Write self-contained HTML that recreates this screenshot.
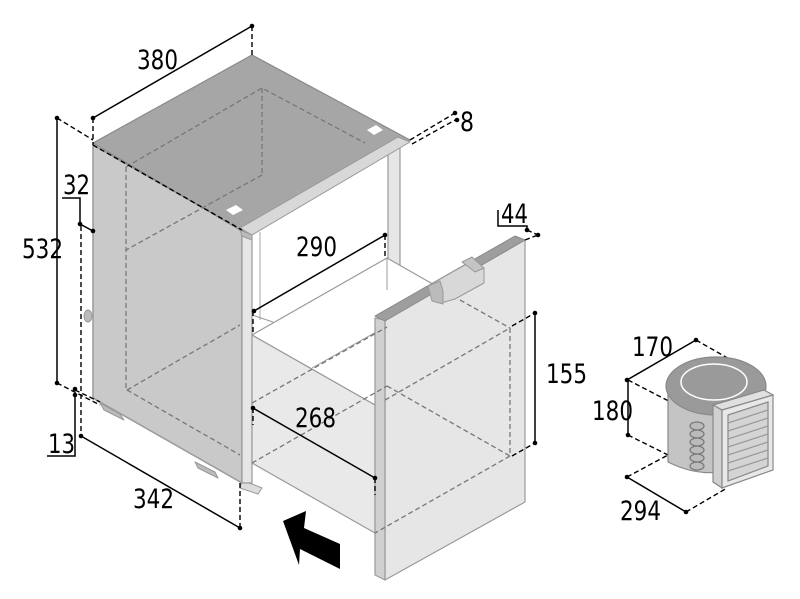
<!DOCTYPE html>
<html><head><meta charset="utf-8"><style>
html,body{margin:0;padding:0;background:#fff;width:800px;height:599px;overflow:hidden}
text{font-family:"DejaVu Sans Condensed","Liberation Sans Narrow","Liberation Sans",sans-serif;font-size:27px;fill:#000}
</style></head><body>
<svg width="800" height="599" viewBox="0 0 800 599" xmlns="http://www.w3.org/2000/svg">
<g stroke-linejoin="round">
<polygon points="93,145 242,230 242,483 93,398" fill="#c9c9c9" stroke="#9a9a9a" stroke-width="1.5"/>
<polygon points="100,403 120,414 124,420 104,410" fill="#bbb" stroke="#999"/>
<polygon points="195,462 215,472 218,478 198,468" fill="#bbb" stroke="#999"/>
<polygon points="242,480 262,488 258,494 240,488" fill="#ddd" stroke="#999"/>
<ellipse cx="88" cy="316" rx="4" ry="6" fill="#bbb" stroke="#999"/>
<polygon points="242,230 252,233 252,483 242,483" fill="#e6e6e6" stroke="#9a9a9a" stroke-width="1.2"/>
<polygon points="388,152 400,146 400,285 388,285" fill="#e6e6e6" stroke="#9a9a9a" stroke-width="1.2"/>
<line x1="260" y1="232" x2="260" y2="320" stroke="#aaa"/>
<polygon points="93,143 252,55 410,140 240,230" fill="#a6a6a6" stroke="#8a8a8a" stroke-width="1.2"/>
<polygon points="240,228 398,137 410,142 252,235" fill="#d8d8d8" stroke="#999"/>
<polygon points="240,230 252,235 252,240 242,236" fill="#bbb" stroke="#999"/>
<polygon points="226,210 236,205 243,210 233,215" fill="#fff"/>
<polygon points="367,130 376,125 383,130 374,135" fill="#fff"/>
<polygon points="252,335 387,258 510,328 375,405" fill="#fff" stroke="#9a9a9a" stroke-width="1.2"/>
<line x1="312" y1="368" x2="385" y2="327" stroke="#9a9a9a"/>
<line x1="252" y1="315" x2="273" y2="322" stroke="#9a9a9a"/>
<line x1="387" y1="258" x2="387" y2="290" stroke="#9a9a9a"/>
<polygon points="252,335 375,405 375,533 252,463" fill="#e9e9e9" stroke="#9a9a9a" stroke-width="1.2"/>
<polygon points="385,320 525,240 525,502 385,580" fill="#e6e6e6" stroke="#9a9a9a" stroke-width="1.2"/>
<polygon points="375,318 385,320 385,580 375,575" fill="#d0d0d0" stroke="#9a9a9a" stroke-width="1.2"/>
<polygon points="375,316 515,236 525,240 385,321" fill="#9e9e9e" stroke="#8a8a8a"/>
<polygon points="428,286 472,261 484,268 484,283 455,299 441,303 441,292" fill="#d8d8d8" stroke="#999"/>
<polygon points="428,286 440,281 443,291 443,304 432,301" fill="#bbb" stroke="#999"/>
<polygon points="462,262 472,257 484,268 475,272" fill="#c4c4c4" stroke="#999"/>
</g>
<g stroke="#777" stroke-width="1.3" stroke-dasharray="5,3" fill="none">
<polyline points="126,167 262,88 365,143"/>
<line x1="262" y1="88" x2="262" y2="175"/>
<line x1="262" y1="175" x2="126" y2="250"/>
<line x1="126" y1="167" x2="126" y2="390"/>
<line x1="127" y1="390" x2="240" y2="455"/>
<line x1="127" y1="390" x2="240" y2="325"/>
<line x1="252" y1="463" x2="387" y2="386"/>
<line x1="252" y1="403" x2="387" y2="327"/>
<line x1="387" y1="386" x2="510" y2="456"/>
<line x1="510" y1="456" x2="375" y2="533"/>
<line x1="385" y1="400" x2="510" y2="328"/>
<line x1="510" y1="328" x2="510" y2="456"/>
<line x1="460" y1="300" x2="510" y2="328"/>
</g>
<g stroke="#000" stroke-width="1.5" fill="none">
<line x1="93" y1="118" x2="252" y2="26"/>
<line x1="57" y1="118" x2="57" y2="383"/>
<line x1="81" y1="436" x2="240" y2="528"/>
<line x1="254" y1="311" x2="385" y2="235"/>
<line x1="253" y1="408" x2="375" y2="478"/>
<line x1="535" y1="313" x2="535" y2="443"/>
<polyline points="62,198 80,198 80,224 93,231"/>
<polyline points="47,456 75,456 75,395"/>
<polyline points="498,210 498,226 527,226 527,230"/>
<line x1="627" y1="380" x2="696" y2="340"/>
<line x1="628" y1="380" x2="628" y2="435"/>
<line x1="627" y1="477" x2="686" y2="512"/>
</g>
<g stroke="#000" stroke-width="1.4" stroke-dasharray="5,3" fill="none">
<line x1="93" y1="118" x2="93" y2="145"/>
<line x1="252" y1="26" x2="252" y2="55"/>
<line x1="57" y1="118" x2="93" y2="140"/>
<line x1="93" y1="145" x2="242" y2="230"/>
<line x1="57" y1="383" x2="100" y2="405"/>
<line x1="75" y1="390" x2="100" y2="402"/>
<line x1="81" y1="226" x2="81" y2="436"/>
<line x1="240" y1="483" x2="240" y2="528"/>
<line x1="410" y1="140" x2="455" y2="113"/>
<line x1="412" y1="144" x2="457" y2="119"/>
<line x1="385" y1="235" x2="385" y2="257"/>
<line x1="253" y1="311" x2="253" y2="335"/>
<line x1="253" y1="408" x2="253" y2="425"/>
<line x1="375" y1="478" x2="375" y2="495"/>
<line x1="525" y1="240" x2="538" y2="235"/>
<line x1="527" y1="230" x2="538" y2="235"/>
<line x1="512" y1="326" x2="535" y2="313"/>
<line x1="512" y1="456" x2="535" y2="443"/>
<line x1="696" y1="340" x2="752" y2="372"/>
<line x1="628" y1="380" x2="715" y2="425"/>
<line x1="628" y1="435" x2="668" y2="455"/>
<line x1="627" y1="477" x2="668" y2="455"/>
<line x1="686" y1="512" x2="727" y2="488"/>
</g>
<g fill="#000">
<circle cx="93" cy="118" r="2.3"/><circle cx="252" cy="26" r="2.3"/>
<circle cx="57" cy="118" r="2.3"/><circle cx="57" cy="383" r="2.3"/>
<circle cx="81" cy="436" r="2.3"/><circle cx="240" cy="528" r="2.3"/>
<circle cx="80" cy="224" r="2.3"/><circle cx="93" cy="231" r="2.3"/>
<circle cx="75" cy="389" r="2.3"/><circle cx="75" cy="395" r="2.3"/>
<circle cx="455" cy="113" r="2.3"/><circle cx="457" cy="120" r="2.3"/>
<circle cx="254" cy="311" r="2.3"/><circle cx="385" cy="235" r="2.3"/>
<circle cx="253" cy="408" r="2.3"/><circle cx="375" cy="478" r="2.3"/>
<circle cx="535" cy="313" r="2.3"/><circle cx="535" cy="443" r="2.3"/>
<circle cx="527" cy="230" r="2.3"/><circle cx="538" cy="235" r="2.3"/>
<circle cx="627" cy="380" r="2.3"/><circle cx="696" cy="340" r="2.3"/>
<circle cx="628" cy="435" r="2.3"/>
<circle cx="627" cy="477" r="2.3"/><circle cx="686" cy="512" r="2.3"/>
<polygon points="283,521 306,511 304,528 340,544 340,569 300,549 299,565"/>
</g>
<g stroke="#888" stroke-width="1.2">
<path d="M668,388 L668,462 Q700,478 730,470 L760,460 L760,388 Z" fill="#c4c4c4"/>
<ellipse cx="716" cy="386" rx="50" ry="29" fill="#9a9a9a"/>
<ellipse cx="714" cy="382" rx="33" ry="18" fill="none" stroke="#fff" stroke-width="1.5"/>
<g fill="#bbb" stroke="#777">
<ellipse cx="697" cy="426" rx="7" ry="4"/><ellipse cx="697" cy="434" rx="7" ry="4"/>
<ellipse cx="697" cy="442" rx="7" ry="4"/><ellipse cx="697" cy="450" rx="7" ry="4"/>
<ellipse cx="697" cy="458" rx="7" ry="4"/><ellipse cx="697" cy="466" rx="7" ry="4"/>
</g>
<polygon points="713,405 764,390 773,395 722,410" fill="#e0e0e0"/>
<polygon points="713,405 722,410 722,488 713,482" fill="#d0d0d0"/>
<polygon points="722,410 773,395 773,470 722,488" fill="#e8e8e8"/>
<polygon points="728,415 768,402 768,466 728,481" fill="#d4d4d4"/>
<g stroke="#999">
<line x1="728" y1="423" x2="768" y2="410"/><line x1="728" y1="431" x2="768" y2="418"/>
<line x1="728" y1="439" x2="768" y2="426"/><line x1="728" y1="447" x2="768" y2="434"/>
<line x1="728" y1="455" x2="768" y2="442"/><line x1="728" y1="463" x2="768" y2="450"/>
<line x1="728" y1="471" x2="768" y2="458"/>
</g>
</g>
<g>
<text x="137" y="69" textLength="41" lengthAdjust="spacingAndGlyphs">380</text>
<text x="460" y="131" textLength="14" lengthAdjust="spacingAndGlyphs">8</text>
<text x="63" y="194" textLength="27" lengthAdjust="spacingAndGlyphs">32</text>
<text x="22" y="258" textLength="41" lengthAdjust="spacingAndGlyphs">532</text>
<text x="48" y="453" textLength="27" lengthAdjust="spacingAndGlyphs">13</text>
<text x="133" y="508" textLength="41" lengthAdjust="spacingAndGlyphs">342</text>
<text x="296" y="256" textLength="41" lengthAdjust="spacingAndGlyphs">290</text>
<text x="295" y="427" textLength="41" lengthAdjust="spacingAndGlyphs">268</text>
<text x="501" y="223" textLength="27" lengthAdjust="spacingAndGlyphs">44</text>
<text x="546" y="383" textLength="41" lengthAdjust="spacingAndGlyphs">155</text>
<text x="632" y="356" textLength="41" lengthAdjust="spacingAndGlyphs">170</text>
<text x="592" y="420" textLength="41" lengthAdjust="spacingAndGlyphs">180</text>
<text x="620" y="520" textLength="41" lengthAdjust="spacingAndGlyphs">294</text>
</g>
</svg>
</body></html>
